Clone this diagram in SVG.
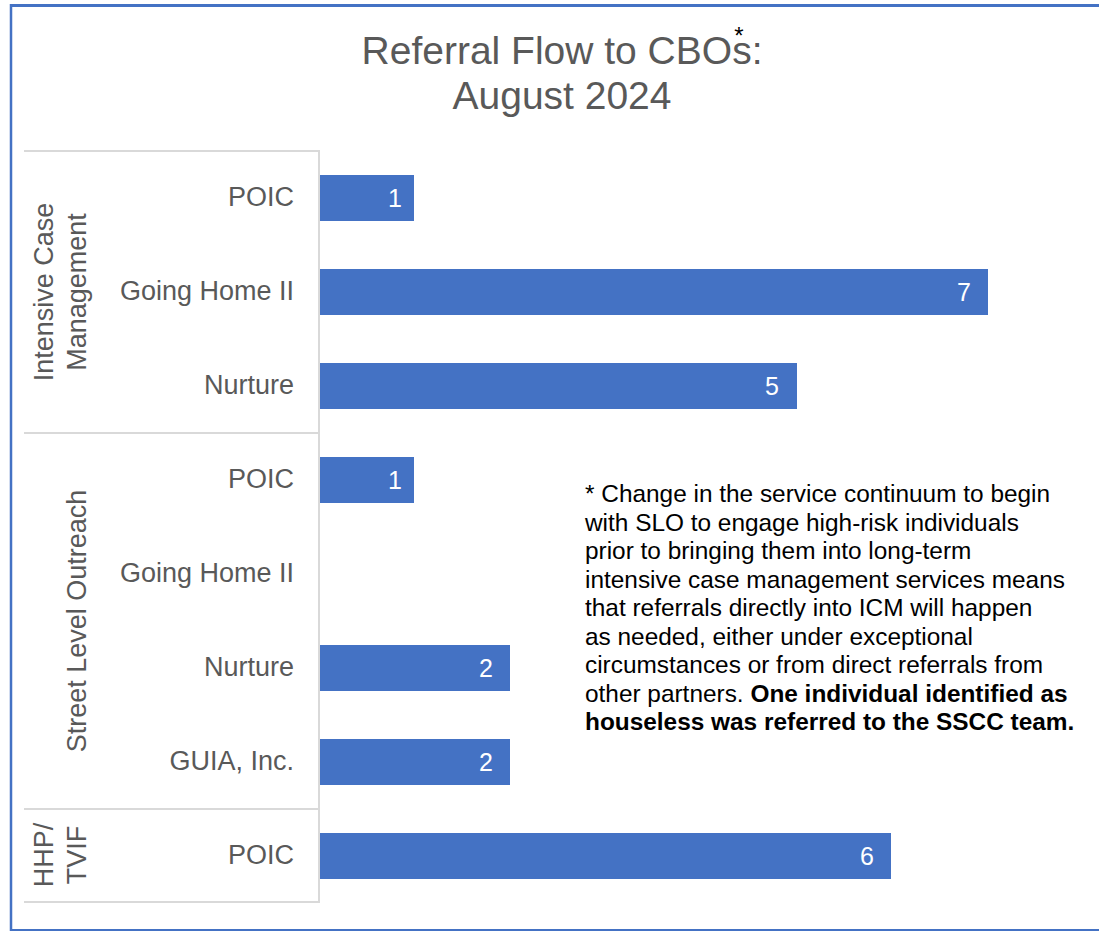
<svg xmlns="http://www.w3.org/2000/svg" width="1099" height="931" viewBox="0 0 1099 931">
<style>
.frame{stroke:#4472C4;fill:none}
.grid{stroke:#d9d9d9;stroke-width:2;fill:none}
.bar{fill:#4472C4}
.cat{font-family:"Liberation Sans",Arial,sans-serif;font-size:27px;fill:#595959;text-anchor:end}
.grp{font-family:"Liberation Sans",Arial,sans-serif;font-size:27px;fill:#595959;text-anchor:middle}
.val{font-family:"Liberation Sans",Arial,sans-serif;font-size:25px;fill:#ffffff;text-anchor:middle}
.title{font-family:"Liberation Sans",Arial,sans-serif;font-size:39px;fill:#595959;text-anchor:middle}
.note{font-family:"Liberation Sans",Arial,sans-serif;font-size:24.4px;fill:#000000}
</style>
<rect width="1099" height="931" fill="#ffffff"/>
<g id="frame">
<line class="frame" x1="10" y1="5.5" x2="1099" y2="5.5" stroke-width="3"/>
<line class="frame" x1="11" y1="4" x2="11" y2="931" stroke-width="2.5"/>
<line class="frame" x1="10" y1="930" x2="1099" y2="930" stroke-width="2" stroke="#6b93d6"/>
</g>
<g id="title">
<text class="title" x="562" y="64">Referral Flow to CBOs:</text>
<text class="title" x="562" y="109">August 2024</text>
<text x="739" y="44" font-family="Liberation Sans,Arial,sans-serif" font-size="24" fill="#000" text-anchor="middle">*</text>
</g>
<g id="axis-table">
<line class="grid" x1="24" y1="151" x2="319" y2="151"/>
<line class="grid" x1="319" y1="150" x2="319" y2="903"/>
<line class="grid" x1="24" y1="433" x2="319" y2="433"/>
<line class="grid" x1="24" y1="809" x2="319" y2="809"/>
<line class="grid" x1="24" y1="902" x2="319" y2="902"/>
</g>
<g id="group-icm">
<text class="grp" transform="translate(53,292) rotate(-90)">Intensive Case</text>
<text class="grp" transform="translate(86,292) rotate(-90)">Management</text>
</g>
<g id="group-slo">
<text class="grp" transform="translate(86,621) rotate(-90)">Street Level Outreach</text>
</g>
<g id="group-hhp">
<text class="grp" transform="translate(53,855) rotate(-90)">HHP/</text>
<text class="grp" transform="translate(86,855) rotate(-90)">TVIF</text>
</g>
<g id="row-icm-poic">
<text class="cat" x="294" y="206">POIC</text>
<rect class="bar" x="320" y="175" width="94" height="46"/>
<text class="val" x="395" y="207">1</text>
</g>
<g id="row-icm-gh">
<text class="cat" x="294" y="300">Going Home II</text>
<rect class="bar" x="320" y="269" width="668" height="46"/>
<text class="val" x="964" y="301">7</text>
</g>
<g id="row-icm-nurture">
<text class="cat" x="294" y="394">Nurture</text>
<rect class="bar" x="320" y="363" width="477" height="46"/>
<text class="val" x="772" y="395">5</text>
</g>
<g id="row-slo-poic">
<text class="cat" x="294" y="488">POIC</text>
<rect class="bar" x="320" y="457" width="94" height="46"/>
<text class="val" x="395" y="489">1</text>
</g>
<g id="row-slo-gh">
<text class="cat" x="294" y="582">Going Home II</text>
</g>
<g id="row-slo-nurture">
<text class="cat" x="294" y="676">Nurture</text>
<rect class="bar" x="320" y="645" width="190" height="46"/>
<text class="val" x="486" y="677">2</text>
</g>
<g id="row-slo-guia">
<text class="cat" x="294" y="770">GUIA, Inc.</text>
<rect class="bar" x="320" y="739" width="190" height="46"/>
<text class="val" x="486" y="771">2</text>
</g>
<g id="row-hhp-poic">
<text class="cat" x="294" y="864">POIC</text>
<rect class="bar" x="320" y="833" width="571" height="46"/>
<text class="val" x="867" y="865">6</text>
</g>
<g id="note">
<text class="note" x="585" y="502">* Change in the service continuum to begin</text>
<text class="note" x="585" y="530.5">with SLO to engage high-risk individuals</text>
<text class="note" x="585" y="559">prior to bringing them into long-term</text>
<text class="note" x="585" y="587.5">intensive case management services means</text>
<text class="note" x="585" y="616">that referrals directly into ICM will happen</text>
<text class="note" x="585" y="644.5">as needed, either under exceptional</text>
<text class="note" x="585" y="673">circumstances or from direct referrals from</text>
<text class="note" x="585" y="701.5">other partners. <tspan font-weight="bold">One individual identified as</tspan></text>
<text class="note" x="585" y="730" font-weight="bold">houseless was referred to the SSCC team.</text>
</g>
<g id="connectors"></g>
</svg>
